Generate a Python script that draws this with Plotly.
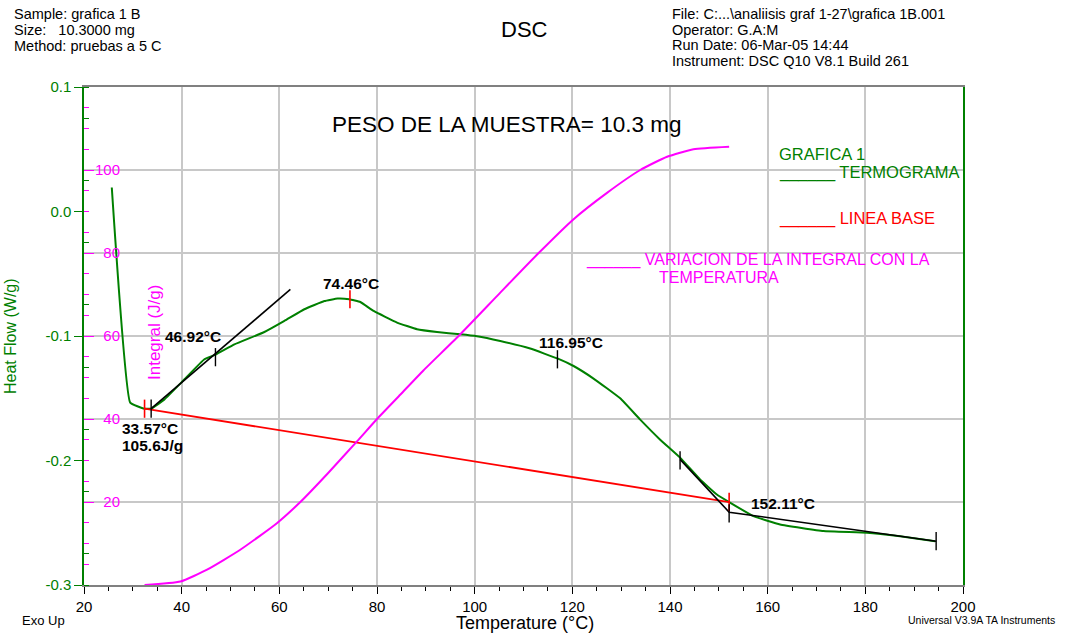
import plotly.graph_objects as go

# ---------------- data ----------------
hf_temp = [25.69, 29.46, 32.38, 33.75, 36.48, 40.57, 44.66, 47.06, 50.8, 56.94,
           61.04, 65.13, 69.22, 71.94, 74.34, 76.59, 79.31, 84.1, 88.2, 92.29,
           97.06, 100.47, 105.24, 111.38, 117.05, 120.25, 124.34, 129.8, 133.9, 137.99,
           142.06, 146.15, 149.59, 152.11, 157.08, 162.55, 171.41, 180.3, 187.1, 194.3]
heat_flow = [0.0193, -0.1535, -0.1584, -0.1584, -0.1509, -0.1348, -0.1187, -0.1147, -0.1067, -0.0968,
             -0.0879, -0.0785, -0.0719, -0.0699, -0.0705, -0.0727, -0.0799, -0.0892, -0.0946, -0.0968,
             -0.0986, -0.1002, -0.104, -0.1101, -0.1182, -0.1241, -0.1342, -0.1501, -0.1672, -0.1833,
             -0.1977, -0.2152, -0.2273, -0.2334, -0.2447, -0.2514, -0.2567, -0.258, -0.2608, -0.2648]

int_temp = [32.4, 39.75, 45.2, 52.0, 59.5, 64.3, 70.0, 75.9, 80.0, 84.8,
            89.5, 96.7, 105.2, 113.1, 120.2, 127.1, 133.9, 139.4, 144.8, 152.11]
integral = [0.0, 0.84, 3.7, 8.5, 14.9, 20.0, 27.0, 34.6, 40.0, 45.9,
            51.7, 60.0, 70.4, 80.0, 88.1, 94.5, 100.0, 103.2, 105.0, 105.6]

base_temp = [32.4, 152.11]
base_hf = [-0.1584, -0.2334]

tan1_temp = [33.75, 62.26]
tan1_hf = [-0.1584, -0.0626]

tan2_temp = [142.06, 152.11, 194.5]
tan2_hf = [-0.1991, -0.2415, -0.2648]

red_mark_temp = [32.4, 74.46, 152.11]
red_mark_hf = [-0.1584, -0.0705, -0.2333]
blk_mark_temp = [33.75, 46.92, 116.95, 142.06, 152.11, 194.5]
blk_mark_hf = [-0.1584, -0.117, -0.1187, -0.1999, -0.2425, -0.2648]

x_ticks = [20, 40, 60, 80, 100, 120, 140, 160, 180, 200]
hf_ticks = [-0.3, -0.2, -0.1, 0.0, 0.1]
hf_labels = ["-0.3", "-0.2", "-0.1", "0.0", "0.1"]
int_ticks = [20, 40, 60, 80, 100]

# ---------------- styling ----------------
W, H = 1067, 634
ML, MR, MT, MB = 84, 104, 87, 49
PW, PH = W - ML - MR, H - MT - MB
FONT = "Liberation Sans, Arial, sans-serif"
GREEN = "#008000"
MAG = "#ff00ff"
RED = "#ff0000"
GRID = "#c8c8c8"


def px(x):
    return (x - ML) / PW


def py(y):
    return (H - MB - y) / PH


fig = go.Figure()

fig.add_trace(go.Scatter(x=hf_temp, y=heat_flow, mode="lines",
                         line=dict(color=GREEN, width=2, shape="spline", smoothing=0.3),
                         yaxis="y"))
fig.add_trace(go.Scatter(x=base_temp, y=base_hf, mode="lines",
                         line=dict(color=RED, width=1.8), yaxis="y"))
fig.add_trace(go.Scatter(x=tan1_temp, y=tan1_hf, mode="lines",
                         line=dict(color="black", width=1.6), yaxis="y"))
fig.add_trace(go.Scatter(x=tan2_temp, y=tan2_hf, mode="lines",
                         line=dict(color="black", width=1.6), yaxis="y"))
fig.add_trace(go.Scatter(x=red_mark_temp, y=red_mark_hf, mode="markers",
                         marker=dict(symbol="line-ns-open", size=13, color=RED,
                                     line=dict(color=RED, width=1.6)), yaxis="y"))
fig.add_trace(go.Scatter(x=blk_mark_temp, y=blk_mark_hf, mode="markers",
                         marker=dict(symbol="line-ns-open", size=13, color="black",
                                     line=dict(color="black", width=1.4)), yaxis="y"))
fig.add_trace(go.Scatter(x=int_temp, y=integral, mode="lines",
                         line=dict(color=MAG, width=2, shape="spline", smoothing=0.5),
                         yaxis="y2"))

ann = []


def text(s, x, y, size, color="black", xanchor="left", bold=False, family=FONT):
    ann.append(dict(text=f"<b>{s}</b>" if bold else s, x=px(x), y=py(y),
                    xref="paper", yref="paper",
                    xanchor=xanchor, yanchor="middle", showarrow=False,
                    font=dict(family=family, size=size, color=color)))


# header (left)
text("Sample: grafica 1 B", 12, 14, 14.5)
text("Size:\u00a0\u00a0\u00a010.3000 mg", 12, 30, 14.5)
text("Method: pruebas a 5 C", 12, 46, 14.5)
# header (right)
text("File: C:...\\analiisis graf 1-27\\grafica 1B.001", 670, 14, 14.5)
text("Operator: G.A:M", 670, 29.7, 14.5)
text("Run Date: 06-Mar-05 14:44", 670, 45.4, 14.5)
text("Instrument: DSC Q10 V8.1 Build 261", 670, 61, 14.5)
text("DSC", 524, 29, 22, xanchor="center")

# in-plot notes
text("PESO DE LA MUESTRA= 10.3 mg", 507, 124, 22.5, xanchor="center")
text("GRAFICA 1", 777, 154, 16.5, GREEN)
text("______ TERMOGRAMA", 777, 172.5, 16.5, GREEN)
text("______ LINEA BASE", 777, 218, 16.5, RED)
text("______ VARIACION DE LA INTEGRAL CON LA", 584, 259.5, 16, MAG)
text("TEMPERATURA", 657, 277.5, 16, MAG)

# peak labels
text("74.46°C", 321, 283, 15.5, bold=True)
text("46.92°C", 163, 336, 15.5, bold=True)
text("33.57°C", 120, 428, 15.5, bold=True)
text("105.6J/g", 120, 445, 15.5, bold=True)
text("116.95°C", 537, 342, 15.5, bold=True)
text("152.11°C", 749, 503, 15.5, bold=True)

# axis titles & footer
ann.append(dict(text="Heat Flow (W/g)", x=px(10), y=py(336), xref="paper", yref="paper",
                textangle=-90, showarrow=False, xanchor="center", yanchor="middle",
                font=dict(family=FONT, size=16, color=GREEN)))
ann.append(dict(text="Integral (J/g)", x=px(154), y=py(333), xref="paper", yref="paper",
                textangle=-90, showarrow=False, xanchor="center", yanchor="middle",
                font=dict(family=FONT, size=17, color=MAG)))
text("Temperature (°C)", 525, 623, 18, xanchor="center")
text("Exo Up", 20, 620, 13)
text("Universal V3.9A TA Instruments", 1057, 620, 10.5, xanchor="right")

# white panels behind the in-plot notes (hide gridlines)
shapes = []
for (x0, x1, y0, y1) in [(770, 962, 146, 247), (580, 953, 249, 286), (326, 688, 111, 136)]:
    shapes.append(dict(type="rect", xref="paper", yref="paper",
                       x0=px(x0), x1=px(x1), y0=py(y1), y1=py(y0),
                       fillcolor="white", line=dict(width=0), layer="between"))

fig.update_layout(
    width=W, height=H,
    margin=dict(l=ML, r=MR, t=MT, b=MB, pad=0),
    paper_bgcolor="white", plot_bgcolor="white",
    showlegend=False,
    annotations=ann,
    shapes=shapes,
    xaxis=dict(range=[20, 200], tickvals=x_ticks, ticks="outside", ticklen=7,
               tickcolor="black", tickwidth=1,
               minor=dict(dtick=5, tick0=20, ticks="outside", ticklen=4, tickcolor="black",
                          showgrid=False),
               showgrid=True, gridcolor=GRID, gridwidth=1.5,
               showline=True, linecolor="#808080", linewidth=1.5, mirror=True,
               zeroline=False, tickfont=dict(family=FONT, size=15, color="black")),
    yaxis=dict(range=[-0.3, 0.1], tickvals=hf_ticks, ticktext=hf_labels,
               ticks="outside", ticklen=8, tickcolor=GREEN,
               minor=dict(tick0=-0.3, dtick=0.025, ticks="inside", ticklen=5,
                          tickcolor=GREEN, showgrid=False),
               showgrid=False, zeroline=False,
               showline=True, linecolor=GREEN, linewidth=1.5, mirror=True,
               tickfont=dict(family=FONT, size=15, color=GREEN)),
    yaxis2=dict(range=[0, 120], overlaying="y", side="left", anchor="x",
                tickvals=int_ticks, ticks="inside", ticklen=10, tickcolor=MAG,
                ticklabelposition="outside", ticklabelstandoff=-37,
                minor=dict(tick0=0, dtick=5, ticks="inside", ticklen=5, tickcolor=MAG,
                           showgrid=False),
                showgrid=True, gridcolor=GRID, gridwidth=1.5,
                showline=False, zeroline=False,
                tickfont=dict(family=FONT, size=15, color=MAG)),
)

fig.write_html("out.html")
